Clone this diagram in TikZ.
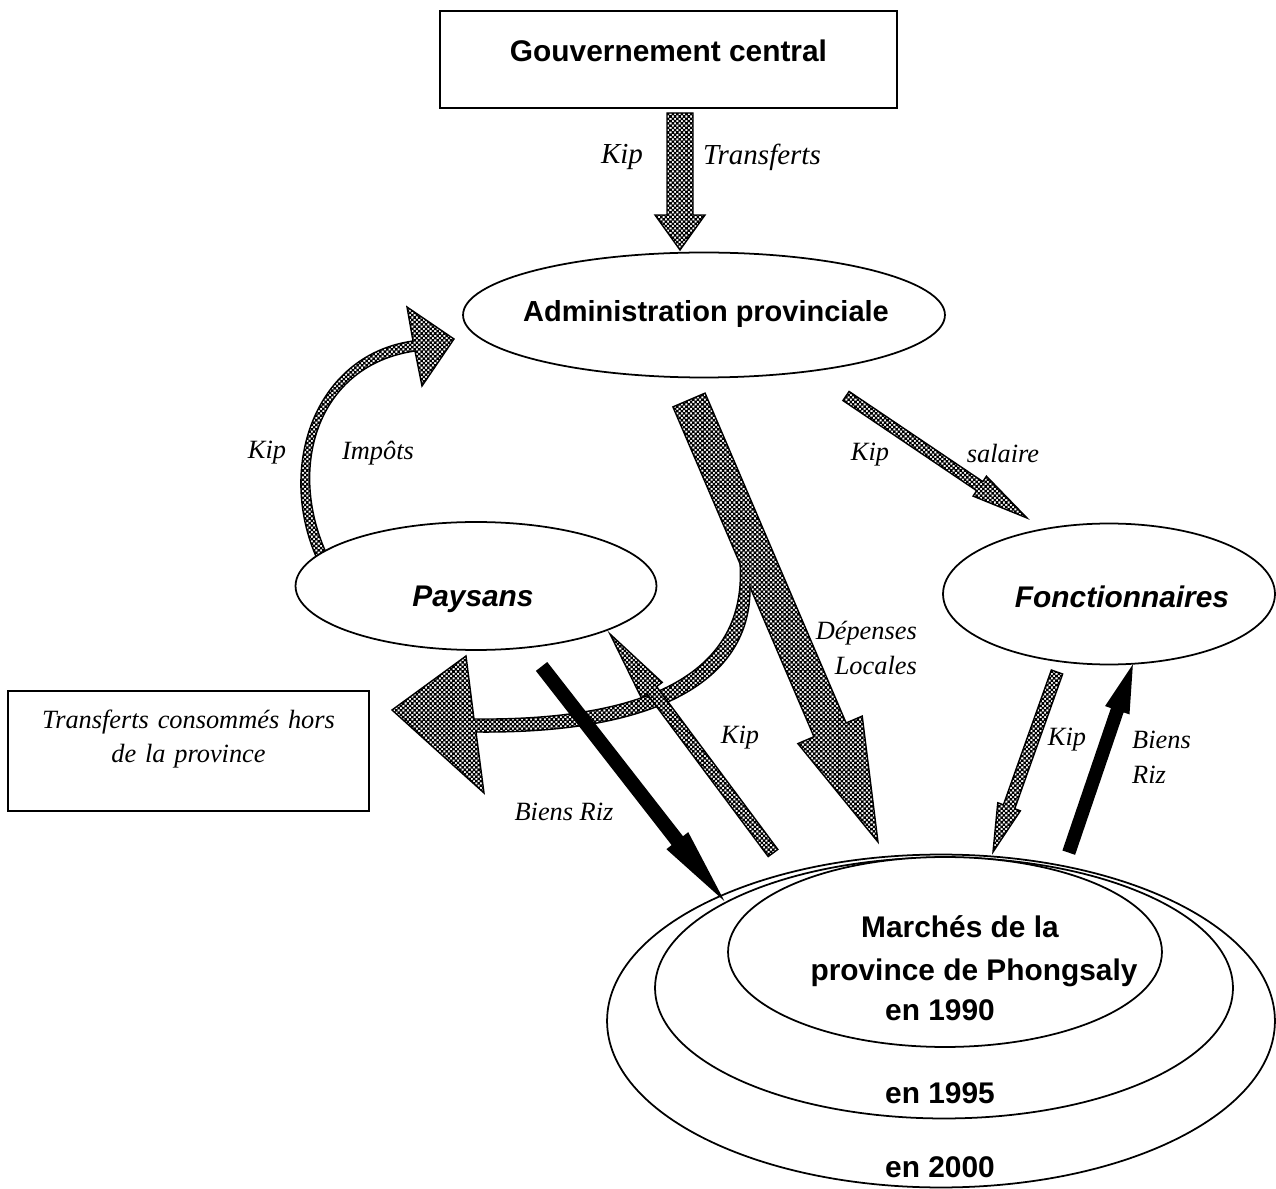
\documentclass[tikz,border=0pt]{standalone}
\usepackage{fontspec}
\setmainfont{Liberation Serif}
\setsansfont{Liberation Sans}
\usetikzlibrary{shapes.geometric,patterns,calc,backgrounds}

\pgfdeclarepatternformonly{finecheck}{\pgfqpoint{-0.5pt}{-0.5pt}}{\pgfqpoint{3.1pt}{3.1pt}}{\pgfqpoint{2.6pt}{2.6pt}}{%
  \pgfpathrectangle{\pgfqpoint{0pt}{0pt}}{\pgfqpoint{1.45pt}{1.45pt}}%
  \pgfpathrectangle{\pgfqpoint{1.3pt}{1.3pt}}{\pgfqpoint{1.45pt}{1.45pt}}%
  \pgfusepath{fill}}

\newcommand{\blockarrow}[6][checker]{%
  \coordinate (hb) at ($(#3)!#6!(#2)$);
  \draw[#1] ($(#2)!#4!90:(#3)$) -- ($(hb)!#4!-90:(#2)$) -- ($(hb)!#5!-90:(#2)$)
    -- (#3) -- ($(hb)!#5!90:(#2)$) -- ($(hb)!#4!90:(#2)$) -- ($(#2)!#4!-90:(#3)$) -- cycle;}

\begin{document}
\begin{tikzpicture}[x=0.02cm, y=-0.02cm,
  box/.style={draw, line width=1pt, inner sep=0pt},
  oval/.style={draw, ellipse, line width=1pt, fill=white},
  bold/.style={font=\sffamily\bfseries\fontsize{17}{20}\selectfont},
  lab/.style={font=\itshape\fontsize{15}{19.9}\selectfont},
  labtop/.style={font=\itshape\fontsize{16.5}{20}\selectfont},
  checker/.style={draw, line width=0.8pt, preaction={fill=white}, pattern=finecheck},
  ink/.style={draw, fill=black, line width=0.8pt}]
\useasboundingbox (0,0) rectangle (1276,1189);

\node[box, minimum width=9.14cm, text height=1.02cm, text depth=0.92cm, bold] (gov) at (668.5,59.5) {Gouvernement central};
\node[oval, minimum width=9.64cm, minimum height=2.5cm] (admin) at (704,315) {};
\node[font=\sffamily\bfseries\fontsize{16.5}{20}\selectfont] (admin-t) at (706,314) {Administration provinciale};
\node[oval, minimum width=7.22cm, minimum height=2.56cm] (pay) at (476,586) {};
\node[bold] (pay-t) at (473,599) {\itshape Paysans};
\node[oval, minimum width=6.64cm, minimum height=2.82cm] (fonc) at (1109,594) {};
\node[bold] (fonc-t) at (1122,597) {\itshape Fonctionnaires};
\node[box, lab, text width=7cm, align=center, minimum width=7.22cm, text height=0.74cm, text depth=1.66cm] (out) at (188.5,751) {Transferts consommés hors\\de la province};

\node[oval, minimum width=13.36cm, minimum height=6.66cm] (m00) at (941,1021) {};
\node[oval, minimum width=11.56cm, minimum height=5.22cm] (m95) at (944,988) {};
\node[oval, minimum width=8.68cm, minimum height=3.8cm] (m90) at (945,952) {};
\node[bold] (m90-a) at (960,927) {Marchés de la};
\node[bold] (m90-b) at (974,973) {province de Phongsaly};
\node[bold] (m90-c) at (940,1010) {en 1990};
\node[bold] (m95-t) at (940,1093) {en 1995};
\node[bold] (m00-t) at (940,1167) {en 2000};

\coordinate (tr-a) at (680,113);  \coordinate (tr-b) at (680,250);
\coordinate (dep-a) at (689,400); \coordinate (dep-b) at (878,842);
\coordinate (sal-a) at (846,396); \coordinate (sal-b) at (1027,518);
\coordinate (fk-a) at (1057,672); \coordinate (fk-b) at (993,852);
\coordinate (fb-a) at (1069,852); \coordinate (fb-b) at (1132,667);
\coordinate (pb-a) at (542,667);  \coordinate (pb-b) at (722,898);
\coordinate (pk-a) at (773,853);  \coordinate (pk-b) at (610,634);

\begin{scope}[on background layer]
\draw[checker] (319,563) .. controls (275,471) and (313,355) .. (413,341) -- (407,307) -- (454,339)
  -- (422,386) -- (415,351) .. controls (317,365) and (285,469) .. (329,559) -- cycle;
\end{scope}

\blockarrow{tr-a}{tr-b}{0.26cm}{0.5cm}{0.7cm}
\blockarrow{dep-a}{dep-b}{0.35cm}{0.7cm}{2.44cm}
\blockarrow{sal-a}{sal-b}{0.11cm}{0.24cm}{1.14cm}
\blockarrow{fk-a}{fk-b}{0.12cm}{0.24cm}{0.96cm}
\blockarrow[ink]{fb-a}{fb-b}{0.12cm}{0.24cm}{0.9cm}

\path[preaction={fill=white}, pattern=finecheck] (740,563) .. controls (747,665) and (662,721) .. (474,719)
  -- (466,656) -- (392,710) -- (484,793) -- (476,732) .. controls (658,734) and (752,680) .. (750,586)
  -- (757,578) -- (746,558) -- cycle;
\draw[line width=0.8pt] (740,563) .. controls (747,665) and (662,721) .. (474,719)
  -- (466,656) -- (392,710) -- (484,793) -- (476,732) .. controls (658,734) and (752,680) .. (750,586);

\blockarrow{pk-a}{pk-b}{0.12cm}{0.26cm}{1.4cm}
\blockarrow[ink]{pb-a}{pb-b}{0.13cm}{0.26cm}{1.44cm}

\node[labtop] (kip-tr) at (622,157) {Kip};
\node[labtop] (lab-tr) at (762,157) {Transferts};
\node[lab] (kip-imp) at (267,453) {Kip};
\node[lab] (lab-imp) at (378,453) {Impôts};
\node[lab] (kip-sal) at (870,455) {Kip};
\node[lab] (lab-sal) at (1003,453) {salaire};
\node[lab, align=right, anchor=east] (lab-dep) at (923,648) {Dépenses\\Locales};
\node[lab] (kip-pay) at (740,738) {Kip};
\node[lab] (lab-pay) at (564,812) {Biens Riz};
\node[lab] (kip-fonc) at (1067,740) {Kip};
\node[lab, align=left, anchor=west] (lab-fonc) at (1126,757) {Biens\\Riz};
\end{tikzpicture}
\end{document}
